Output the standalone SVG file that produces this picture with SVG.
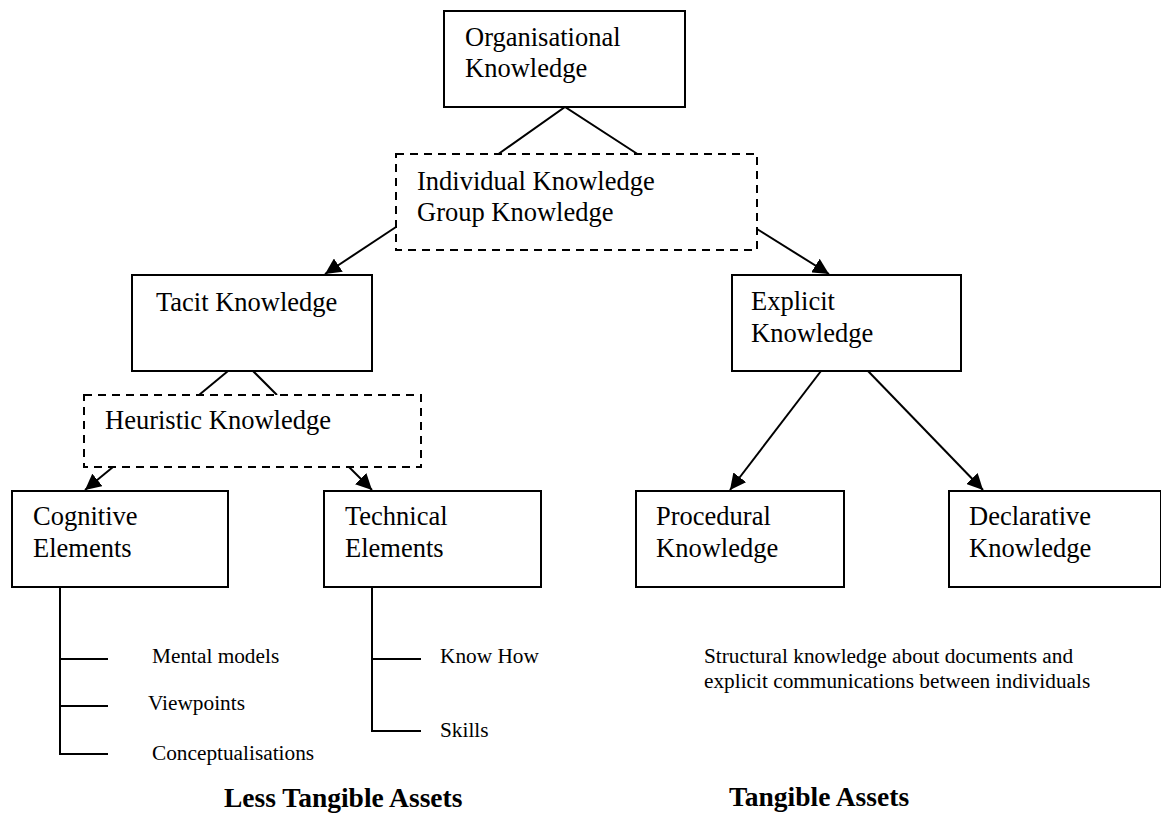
<svg xmlns="http://www.w3.org/2000/svg" width="1161" height="814" viewBox="0 0 1161 814">
  <style>
    .box { fill: #fff; stroke: #000; stroke-width: 2; }
    .dash { fill: #fff; stroke: #000; stroke-width: 2; stroke-dasharray: 8 6; }
    .ln { stroke: #000; stroke-width: 2; fill: none; }
    .arr { stroke: #000; stroke-width: 2; fill: none; marker-end: url(#head); }
    .t { font-family: "Liberation Serif", "Times New Roman", serif; font-size: 26.5px; fill: #000; }
    .s { font-family: "Liberation Serif", "Times New Roman", serif; font-size: 21.3px; fill: #000; }
    .b { font-family: "Liberation Serif", "Times New Roman", serif; font-size: 27.5px; font-weight: bold; fill: #000; }
  </style>
  <defs>
    <marker id="head" markerUnits="userSpaceOnUse" markerWidth="17" markerHeight="16" refX="16" refY="8" orient="auto">
      <path d="M0,0 L16,8 L0,16 Z" fill="#000"/>
    </marker>
  </defs>
  <rect width="1161" height="814" fill="#fff"/>

  <g id="connectors">
    <!-- plain links -->
    <polyline class="ln" points="497,155 565,107 639,155"/>
    <polyline class="ln" points="199,395 228,371"/>
    <polyline class="ln" points="253,371 277,395"/>
    <!-- arrows -->
    <line class="arr" x1="396" y1="227" x2="325" y2="274"/>
    <line class="arr" x1="757" y1="229" x2="829" y2="274"/>
    <line class="arr" x1="113" y1="467" x2="85" y2="490"/>
    <line class="arr" x1="349" y1="467" x2="372" y2="490"/>
    <line class="arr" x1="821" y1="371" x2="730" y2="490"/>
    <line class="arr" x1="868" y1="371" x2="983" y2="490"/>
    <!-- cognitive element branches -->
    <polyline class="ln" points="60,587 60,754 108,754"/>
    <line class="ln" x1="60" y1="659" x2="108" y2="659"/>
    <line class="ln" x1="60" y1="706" x2="108" y2="706"/>
    <!-- technical element branches -->
    <polyline class="ln" points="372,587 372,731 421,731"/>
    <line class="ln" x1="372" y1="659" x2="421" y2="659"/>
  </g>

  <g id="organisational">
    <rect class="box" x="444" y="11" width="241" height="96"/>
    <text class="t" x="465" y="46">Organisational</text>
    <text class="t" x="465" y="77">Knowledge</text>
  </g>

  <g id="individual-group">
    <rect class="dash" x="396" y="154" width="361" height="96"/>
    <text class="t" x="417" y="190">Individual Knowledge</text>
    <text class="t" x="417" y="221">Group Knowledge</text>
  </g>

  <g id="tacit">
    <rect class="box" x="132" y="275" width="240" height="96"/>
    <text class="t" x="156" y="311">Tacit Knowledge</text>
  </g>

  <g id="explicit">
    <rect class="box" x="732" y="275" width="229" height="96"/>
    <text class="t" x="751" y="310">Explicit</text>
    <text class="t" x="751" y="342">Knowledge</text>
  </g>

  <g id="heuristic">
    <rect class="dash" x="84" y="395" width="337" height="72"/>
    <text class="t" x="105" y="429">Heuristic Knowledge</text>
  </g>

  <g id="cognitive">
    <rect class="box" x="12" y="491" width="216" height="96"/>
    <text class="t" x="33" y="525">Cognitive</text>
    <text class="t" x="33" y="557">Elements</text>
  </g>

  <g id="technical">
    <rect class="box" x="324" y="491" width="217" height="96"/>
    <text class="t" x="345" y="525">Technical</text>
    <text class="t" x="345" y="557">Elements</text>
  </g>

  <g id="procedural">
    <rect class="box" x="636" y="491" width="208" height="96"/>
    <text class="t" x="656" y="525">Procedural</text>
    <text class="t" x="656" y="557">Knowledge</text>
  </g>

  <g id="declarative">
    <rect class="box" x="949" y="491" width="212" height="96"/>
    <text class="t" x="969" y="525">Declarative</text>
    <text class="t" x="969" y="557">Knowledge</text>
  </g>

  <g id="cognitive-items">
    <text class="s" x="152" y="663">Mental models</text>
    <text class="s" x="148" y="710">Viewpoints</text>
    <text class="s" x="152" y="760">Conceptualisations</text>
  </g>

  <g id="technical-items">
    <text class="s" x="440" y="663">Know How</text>
    <text class="s" x="440" y="737">Skills</text>
  </g>

  <g id="explicit-note">
    <text class="s" x="704" y="663">Structural knowledge about documents and</text>
    <text class="s" x="704" y="688">explicit communications between individuals</text>
  </g>

  <g id="captions">
    <text class="b" x="224" y="807">Less Tangible Assets</text>
    <text class="b" x="729" y="806">Tangible Assets</text>
  </g>
</svg>
